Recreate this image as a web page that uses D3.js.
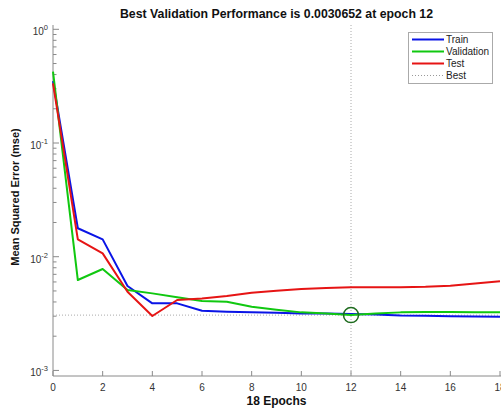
<!DOCTYPE html>
<html>
<head>
<meta charset="utf-8">
<script src="https://cdn.jsdelivr.net/npm/d3@7"></script>
<style>
  body { margin: 0; background: #fff; }
  text { font-family: "Liberation Sans", Arial, sans-serif; }
  .tick-label { font-size: 10px; fill: #333; }
  .axis-title { font-size: 11px; font-weight: bold; fill: #111; }
  .legend-text { font-size: 10px; fill: #222; }
</style>
</head>
<body>
<div id="chart"></div>
<script>
// epochs 0..18
const epochs = d3.range(0, 19);
const trainMse = [0.35, 0.0178, 0.0142, 0.00553, 0.00389, 0.00389, 0.00335, 0.00328, 0.00324, 0.00322,
                  0.00317, 0.00316, 0.00313, 0.00310, 0.00304, 0.00302, 0.00300, 0.00298, 0.00296];
const validMse = [0.424, 0.00624, 0.0078, 0.00509, 0.00476, 0.0044, 0.00408, 0.00402, 0.00363, 0.00342,
                  0.00324, 0.00317, 0.0030652, 0.00316, 0.00324, 0.00326, 0.00326, 0.00324, 0.00324];
const testMse  = [0.335, 0.0142, 0.0107, 0.00492, 0.00301, 0.00416, 0.0043, 0.00451, 0.00483, 0.00503,
                  0.0052, 0.00532, 0.00538, 0.00538, 0.00538, 0.00543, 0.00555, 0.00581, 0.00608];
const bestEpoch = 12;
const bestPerf = 0.0030652;
const xTicks = [0, 2, 4, 6, 8, 10, 12, 14, 16, 18];
const yTickExps = [0, -1, -2, -3];
const seriesNames = ["Train", "Validation", "Test", "Best"];
const seriesColors = ["#0a14e6", "#10c810", "#e61414", "#999"];

const W = 501, H = 412;
const m = { left: 53, right: 500, top: 25, bottom: 376 };

const svg = d3.select("#chart").append("svg")
  .attr("width", W).attr("height", H);

const x = d3.scaleLinear().domain([0, 18]).range([m.left, m.right]);
const y = d3.scaleLog().domain([Math.pow(10, -3.049), Math.pow(10, 0.0378)]).range([m.bottom, m.top]);

const axisColor = "#8a8a8a";

// axes lines
svg.append("line").attr("x1", m.left).attr("x2", m.left).attr("y1", m.top).attr("y2", m.bottom)
  .attr("stroke", axisColor).attr("stroke-width", 1);
svg.append("line").attr("x1", m.left).attr("x2", m.right + 2).attr("y1", m.bottom).attr("y2", m.bottom)
  .attr("stroke", axisColor).attr("stroke-width", 1);

// x ticks (inward)
const gx = svg.append("g");
xTicks.forEach(t => {
  gx.append("line").attr("x1", x(t)).attr("x2", x(t)).attr("y1", m.bottom).attr("y2", m.bottom - 5)
    .attr("stroke", axisColor);
  gx.append("text").attr("class", "tick-label")
    .attr("x", x(t)).attr("y", m.bottom + 15).attr("text-anchor", "middle").text(t);
});

// y ticks: major + minor (log)
const gy = svg.append("g");
for (let e = -3; e <= 0; e++) {
  for (let k = 1; k <= 9; k++) {
    const v = k * Math.pow(10, e);
    if (v < y.domain()[0] || v > y.domain()[1]) continue;
    const len = k === 1 ? 6 : 3.5;
    gy.append("line").attr("x1", m.left).attr("x2", m.left + len)
      .attr("y1", y(v)).attr("y2", y(v)).attr("stroke", axisColor);
  }
}
yTickExps.forEach(e => {
  const t = gy.append("text").attr("class", "tick-label")
    .attr("x", 48).attr("y", y(Math.pow(10, e)) + 6).attr("text-anchor", "end");
  t.append("tspan").text("10");
  t.append("tspan").attr("dy", -5).attr("font-size", "7.5px").text(e);
});

// best markers
svg.append("line").attr("x1", x(bestEpoch)).attr("x2", x(bestEpoch)).attr("y1", m.top).attr("y2", m.bottom)
  .attr("stroke", "#aaa").attr("stroke-width", 1).attr("stroke-dasharray", "1,2");
svg.append("line").attr("x1", m.left).attr("x2", m.right).attr("y1", y(bestPerf)).attr("y2", y(bestPerf))
  .attr("stroke", "#aaa").attr("stroke-width", 1).attr("stroke-dasharray", "1,2");

// series
const line = d3.line().x((d, i) => x(epochs[i])).y(d => y(d));
[trainMse, validMse, testMse].forEach((s, i) => {
  svg.append("path").datum(s)
    .attr("d", line)
    .attr("fill", "none")
    .attr("stroke", seriesColors[i])
    .attr("stroke-width", 2)
    .attr("stroke-linejoin", "round");
});

svg.append("circle").attr("cx", x(bestEpoch)).attr("cy", y(bestPerf)).attr("r", 7.5)
  .attr("fill", "none").attr("stroke", "#1e6b1e").attr("stroke-width", 1.5);

// title
svg.append("text").attr("class", "axis-title")
  .attr("x", (m.left + m.right) / 2).attr("y", 18).attr("text-anchor", "middle")
  .style("font-size", "12.3px")
  .text("Best Validation Performance is " + bestPerf + " at epoch " + bestEpoch);

// axis titles
svg.append("text").attr("class", "axis-title")
  .attr("x", (m.left + m.right) / 2).attr("y", 405).attr("text-anchor", "middle")
  .style("font-size", "12px")
  .text("18 Epochs");
svg.append("text").attr("class", "axis-title")
  .attr("transform", "translate(19,197) rotate(-90)").attr("text-anchor", "middle")
  .text("Mean Squared Error  (mse)");

// legend
const lg = svg.append("g");
lg.append("rect").attr("x", 408.5).attr("y", 32.5).attr("width", 84).attr("height", 51)
  .attr("fill", "#fff").attr("stroke", "#aaa").attr("stroke-width", 1);
seriesNames.forEach((name, i) => {
  const ly = 39.5 + i * 12;
  lg.append("line").attr("x1", 412).attr("x2", 444).attr("y1", ly).attr("y2", ly)
    .attr("stroke", seriesColors[i])
    .attr("stroke-width", i === 3 ? 1 : 2)
    .attr("stroke-dasharray", i === 3 ? "1,2" : null);
  lg.append("text").attr("class", "legend-text")
    .attr("x", 446).attr("y", ly + 3.5).text(name);
});
</script>
</body>
</html>
